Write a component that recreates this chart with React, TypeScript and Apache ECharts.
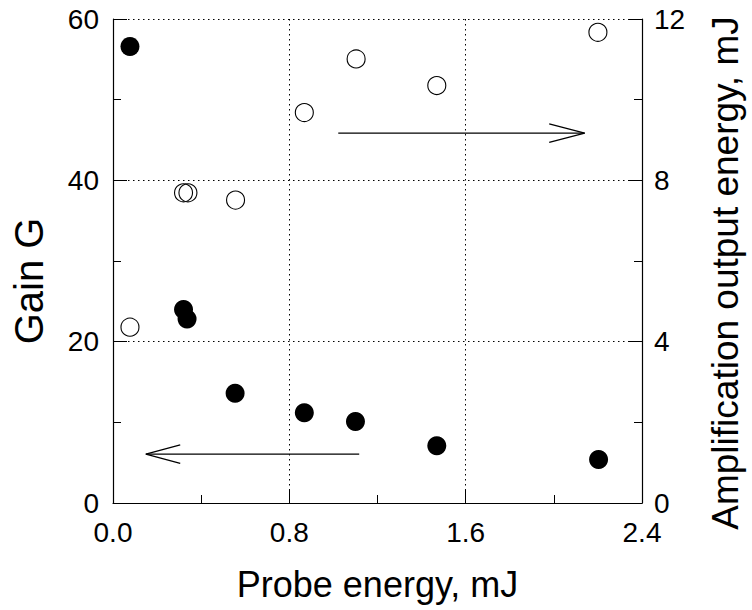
import React, { useEffect, useRef } from "react";
import * as echarts from "echarts";

const probeGain = [0.077, 0.32, 0.336, 0.554, 0.868, 1.1, 1.469, 2.203];
const gainValues = [56.6, 24.0, 22.8, 13.6, 11.2, 10.1, 7.1, 5.4];
const probeOutput = [0.077, 0.32, 0.34, 0.556, 0.868, 1.103, 1.469, 2.2];
const outputValues = [4.36, 7.69, 7.69, 7.51, 9.68, 11.01, 10.35, 11.67];

const leftArrowShaft = [[0.149, 6.07], [1.117, 6.07]];
const leftArrowHead = [[0.305, 7.22], [0.149, 6.07], [0.305, 4.92]];
const rightArrowShaft = [[1.022, 9.17], [2.14, 9.17]];
const rightArrowHead = [[1.979, 9.4], [2.14, 9.17], [1.979, 8.94]];

const FONT = "'Liberation Sans', Arial, sans-serif";

export default function App() {
  const ref = useRef<HTMLDivElement>(null);
  useEffect(() => {
    if (!ref.current) return;
    const chart = echarts.init(ref.current, null, { renderer: "svg" });
    const dotted = { color: "#000", width: 1, type: [1.5, 3.5] as any };
    const axisLineStyle = { color: "#000", width: 1.2 };
    const arrowLine = (data: number[][], yIdx: number) => ({
      type: "line",
      yAxisIndex: yIdx,
      data,
      symbol: "none",
      silent: true,
      lineStyle: { color: "#000", width: 1.3 },
      z: 1,
    });
    chart.setOption({
      animation: false,
      backgroundColor: "#fff",
      textStyle: { fontFamily: FONT, color: "#000" },
      grid: { left: 113, right: 106, top: 19, bottom: 107 },
      xAxis: {
        type: "value",
        min: 0,
        max: 2.4,
        interval: 0.8,
        name: "Probe energy, mJ",
        nameLocation: "middle",
        nameGap: 63,
        nameTextStyle: { fontSize: 36, color: "#000", fontFamily: FONT },
        axisLine: { show: true, lineStyle: axisLineStyle },
        axisTick: { show: true, inside: true, length: 14, lineStyle: { color: "#000" } },
        minorTick: { show: true, splitNumber: 2, length: 8, lineStyle: { color: "#000" } },
        axisLabel: {
          fontSize: 28,
          color: "#000",
          margin: 15,
          fontFamily: FONT,
          formatter: (v: number) => v.toFixed(1),
        },
        splitLine: { show: true, lineStyle: dotted },
      },
      yAxis: [
        {
          type: "value",
          min: 0,
          max: 60,
          interval: 20,
          name: "Gain G",
          nameLocation: "middle",
          nameRotate: 90,
          nameGap: 64,
          nameTextStyle: {
            fontSize: 40,
            color: "#000",
            fontFamily: FONT,
            padding: [0, 40, 0, 0],
          },
          axisLine: { show: true, lineStyle: axisLineStyle },
          axisTick: { show: true, inside: true, length: 14, lineStyle: { color: "#000" } },
          minorTick: { show: true, splitNumber: 2, length: 8, lineStyle: { color: "#000" } },
          axisLabel: { fontSize: 28, color: "#000", margin: 14, fontFamily: FONT },
          splitLine: { show: true, lineStyle: dotted },
        },
        {
          type: "value",
          min: 0,
          max: 12,
          interval: 4,
          position: "right",
          name: "Amplification output energy, mJ",
          nameLocation: "middle",
          nameRotate: 90,
          nameGap: 65,
          nameTextStyle: {
            fontSize: 37,
            color: "#000",
            fontFamily: FONT,
            padding: [0, 24, 0, 0],
          },
          axisLine: { show: true, lineStyle: axisLineStyle },
          axisTick: { show: true, inside: true, length: 13, lineStyle: { color: "#000" } },
          minorTick: { show: true, splitNumber: 2, length: 8, lineStyle: { color: "#000" } },
          axisLabel: { fontSize: 28, color: "#000", margin: 12, fontFamily: FONT },
          splitLine: { show: false },
        },
      ],
      series: [
        arrowLine(leftArrowShaft, 0),
        arrowLine(leftArrowHead, 0),
        arrowLine(rightArrowShaft, 1),
        arrowLine(rightArrowHead, 1),
        {
          type: "scatter",
          yAxisIndex: 0,
          data: probeGain.map((x, i) => [x, gainValues[i]]),
          symbol: "circle",
          symbolSize: 19,
          itemStyle: { color: "#000", opacity: 1 },
          z: 3,
        },
        {
          type: "scatter",
          yAxisIndex: 1,
          data: probeOutput.map((x, i) => [x, outputValues[i]]),
          symbol: "circle",
          symbolSize: 18,
          itemStyle: {
            color: "transparent",
            borderColor: "#000",
            borderWidth: 1.1,
            opacity: 1,
          },
          z: 3,
        },
      ],
    });
    return () => chart.dispose();
  }, []);
  return (
    <div
      ref={ref}
      style={{ position: "fixed", left: 0, top: 0, width: 752, height: 610 }}
    />
  );
}
